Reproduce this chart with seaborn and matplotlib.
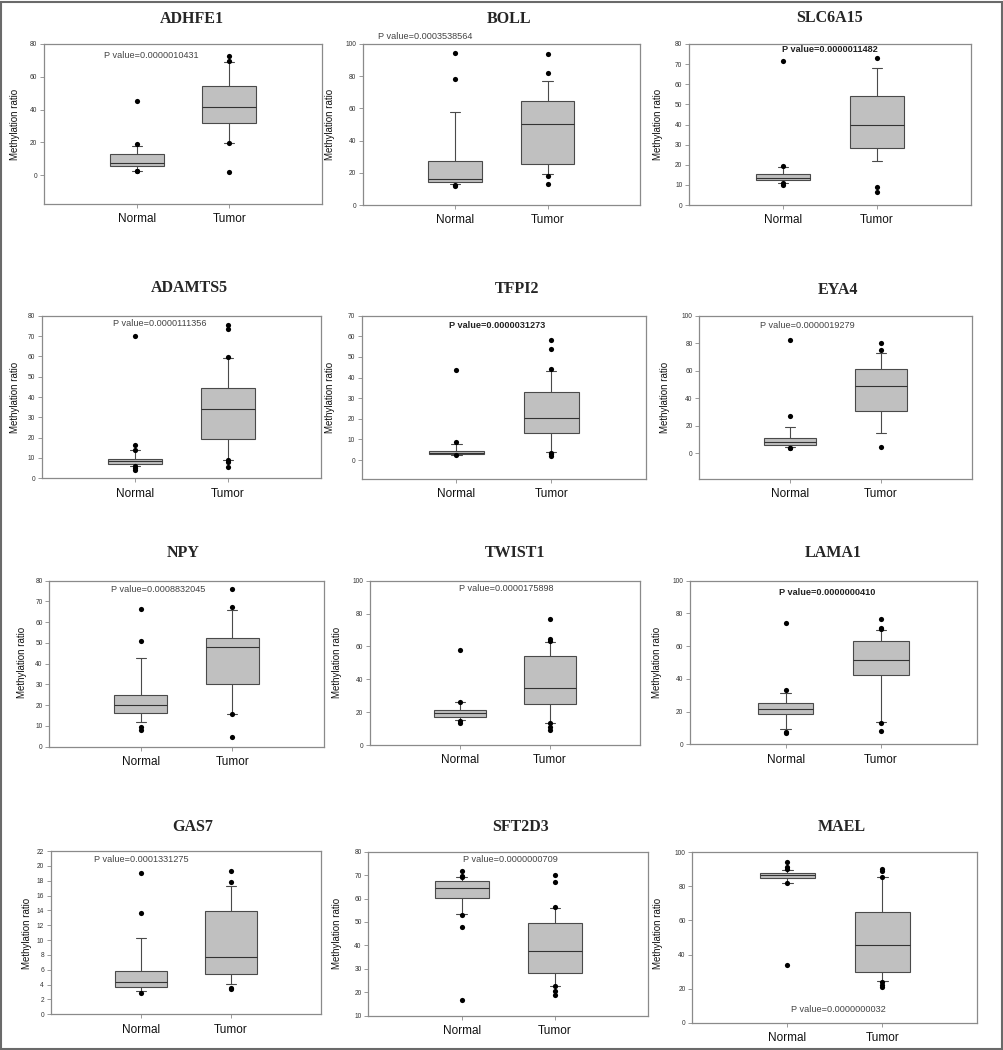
import matplotlib
matplotlib.use("Agg")
import matplotlib.pyplot as plt
import seaborn as sns
from matplotlib.patches import Rectangle

# values (box = quartiles, whiskers = 10th/90th pct)
genes = ["ADHFE1", "BOLL", "SLC6A15", "ADAMTS5", "TFPI2", "EYA4",
         "NPY", "TWIST1", "LAMA1", "GAS7", "SFT2D3", "MAEL"]
p_values = ["0.0000010431", "0.0003538564", "0.0000011482", "0.0000111356",
            "0.0000031273", "0.0000019279", "0.0008832045", "0.0000175898",
            "0.0000000410", "0.0001331275", "0.0000000709", "0.0000000032"]
groups = ["Normal", "Tumor"]

normal_lo = [2.2, 13.0, 10.8, 5.9, 2.4, 4.8, 11.7, 15.0, 9.2, 3.1, 53.4, 82.0]
normal_q1 = [5.5, 14.5, 12.3, 6.9, 2.9, 5.8, 16.1, 16.8, 18.3, 3.68, 60.4, 84.9]
normal_med = [7.5, 16.0, 13.6, 8.5, 3.4, 8.2, 19.9, 19.3, 21.4, 4.31, 64.6, 86.5]
normal_q3 = [12.8, 27.3, 15.2, 9.7, 4.5, 11.4, 25.1, 21.1, 25.5, 5.88, 67.6, 87.9]
normal_hi = [17.9, 58.0, 19.0, 13.8, 7.9, 19.4, 42.6, 26.2, 31.2, 10.33, 69.0, 89.6]
normal_out = [[45.2, 18.7, 2.2, 2.5], [94.6, 78.3, 12.4, 12.0],
              [71.4, 19.4, 10.8, 9.9], [69.8, 16.6, 13.9, 6.0, 5.0, 4.3],
              [43.8, 8.7, 2.4], [82.1, 27.4, 4.1, 3.6], [66.2, 50.8, 9.6, 8.0],
              [57.6, 26.4, 14.6, 13.6], [74.3, 33.4, 7.7, 6.7],
              [19.1, 13.6, 2.83], [71.7, 69.8, 69.3, 52.9, 48.0, 16.7],
              [94.1, 91.2, 90.4, 82.0, 33.7]]

tumor_lo = [19.8, 19.3, 22.0, 8.9, 4.0, 14.5, 15.6, 13.6, 13.8, 4.04, 22.8, 24.3]
tumor_q1 = [32.0, 25.3, 28.3, 19.2, 12.9, 30.8, 30.4, 24.9, 42.2, 5.43, 28.4, 29.5]
tumor_med = [41.3, 50.1, 39.6, 33.9, 20.5, 49.2, 48.2, 34.9, 51.5, 7.77, 37.8, 45.4]
tumor_q3 = [54.2, 64.8, 54.1, 44.4, 32.8, 61.5, 52.2, 54.0, 62.9, 13.92, 49.7, 65.0]
tumor_hi = [69.2, 77.0, 67.9, 59.2, 43.3, 72.6, 65.7, 62.5, 69.7, 17.29, 55.9, 85.7]
tumor_out = [[72.9, 69.6, 19.3, 1.6], [93.8, 81.8, 18.0, 12.8], [73.0, 8.9, 6.5],
             [75.6, 73.4, 59.8, 8.9, 7.9, 5.6], [58.2, 53.8, 44.1, 3.6, 2.7, 2.1],
             [79.9, 75.1, 4.4], [75.8, 67.5, 15.6, 4.8],
             [76.9, 64.5, 63.5, 13.6, 10.8, 8.9], [76.8, 71.3, 70.5, 12.8, 8.4],
             [19.3, 17.87, 3.6, 3.37], [69.9, 67.1, 56.2, 22.8, 20.5, 18.8],
             [90.4, 89.2, 85.7, 23.9, 22.1, 21.1]]

y_limits = [(-17.7, 80), (0, 100), (0, 80), (0, 80), (-9.2, 70), (-18.6, 100),
            (0, 80), (0, 100), (0, 100), (0, 22), (10, 80), (0, 100)]
y_steps = [20, 20, 10, 10, 10, 20, 10, 20, 20, 2, 10, 20]

# layout in pixels: axes (left, right, top, bottom), title, p text, y label
axes_px = [(44, 322, 44, 204), (362.7, 640, 44, 205), (689, 970.7, 44, 205),
           (41.7, 320.7, 315.7, 478.3), (361.7, 646, 315.7, 479), (699.3, 971.7, 315.7, 479),
           (49.3, 324, 580.7, 746.7), (370, 640, 580.7, 745), (690, 976.7, 580.7, 744.3),
           (50.7, 320.7, 851, 1014.3), (368.3, 648.3, 851.7, 1015.7), (692.3, 977.3, 852.3, 1022.7)]
title_px = [(191.7, 19), (509, 19), (830, 18.3), (189, 288.3), (516.7, 289.3), (838.3, 290),
            (183.3, 553.3), (515, 553.3), (833.3, 553.3), (192.7, 826.7), (520.7, 826.7), (841.7, 826.7)]
ptext_px = [(151, 55.7), (425, 36.7), (830, 50), (160, 323.3), (496.7, 325), (807.7, 325.7),
            (158.3, 589.3), (506.7, 588.7), (826.7, 592.3), (141.7, 860), (510, 859.3), (838.3, 1009.3)]
ptext_bold = [False, False, True, False, True, False, False, False, True, False, False, False]
ylab_px = [(15, 124), (330, 124), (658, 124), (15, 397), (330, 397), (665, 397),
           (22, 662), (337, 662), (657, 662), (27, 933), (337, 933), (658, 933)]

sns.set_style("ticks")
plt.rcParams['font.family'] = ['Liberation Sans', 'DejaVu Sans']

W, H = 1004, 1050
fig = plt.figure(figsize=(W / 100, H / 100), dpi=100)
edge = "#4a4a4a"
spine = "#8a8a8a"

for i, gene in enumerate(genes):
    l, r, t, b = axes_px[i]
    ax = fig.add_axes([l / W, 1 - b / H, (r - l) / W, (b - t) / H])
    stats = [
        dict(med=normal_med[i], q1=normal_q1[i], q3=normal_q3[i],
             whislo=normal_lo[i], whishi=normal_hi[i], fliers=[], label=groups[0]),
        dict(med=tumor_med[i], q1=tumor_q1[i], q3=tumor_q3[i],
             whislo=tumor_lo[i], whishi=tumor_hi[i], fliers=[], label=groups[1]),
    ]
    ax.bxp(stats, positions=[1, 2], widths=0.58, capwidths=0.11, showfliers=False,
           patch_artist=True,
           boxprops=dict(facecolor="#c0c0c0", edgecolor=edge, linewidth=0.8),
           medianprops=dict(color="#333333", linewidth=0.8),
           whiskerprops=dict(color=edge, linewidth=0.8),
           capprops=dict(color=edge, linewidth=0.8))
    xs = [1] * len(normal_out[i]) + [2] * len(tumor_out[i])
    sns.scatterplot(x=xs, y=normal_out[i] + tumor_out[i], ax=ax, color="black",
                    s=14, linewidth=0, legend=False, zorder=5)

    lo, hi = y_limits[i]
    ax.set_xlim(0, 3)
    ax.set_ylim(lo, hi)
    start = 0 if lo <= 0 else lo
    ticks = []
    v = start
    while v <= hi + 1e-9:
        ticks.append(v)
        v += y_steps[i]
    ax.set_yticks(ticks)
    ax.set_xticks([1, 2])
    ax.set_xticklabels(groups)
    ax.set_xlabel("")
    ax.set_ylabel("")
    for s in ax.spines.values():
        s.set_visible(True)
        s.set_color(spine)
        s.set_linewidth(0.9)
    ax.tick_params(axis="y", labelsize=4.8, length=2.8, width=0.6, color=spine,
                   labelcolor="#333333", pad=2)
    ax.tick_params(axis="x", labelsize=8.5, length=2.8, width=0.6, color=spine,
                   labelcolor="#111111", pad=4)

    tx, ty = title_px[i]
    fig.text(tx / W, 1 - ty / H, gene, ha="center", va="center",
             family="Liberation Serif", weight="bold", fontsize=11.5)
    px, py = ptext_px[i]
    fig.text(px / W, 1 - py / H, "P value=" + p_values[i], ha="center", va="center",
             fontsize=6.6, color="#222222" if ptext_bold[i] else "#444444",
             weight="bold" if ptext_bold[i] else "normal")
    lx, ly = ylab_px[i]
    fig.text(lx / W, 1 - ly / H, "Methylation ratio", ha="center", va="center",
             rotation=90, fontsize=7, color="#111111")

fig.patches.append(Rectangle((1.5 / W, 1.5 / H), (W - 3) / W, (H - 3) / H,
                             transform=fig.transFigure, fill=False,
                             edgecolor="#6a6a6a", linewidth=1.5))

fig.savefig("out.png", dpi=100)
